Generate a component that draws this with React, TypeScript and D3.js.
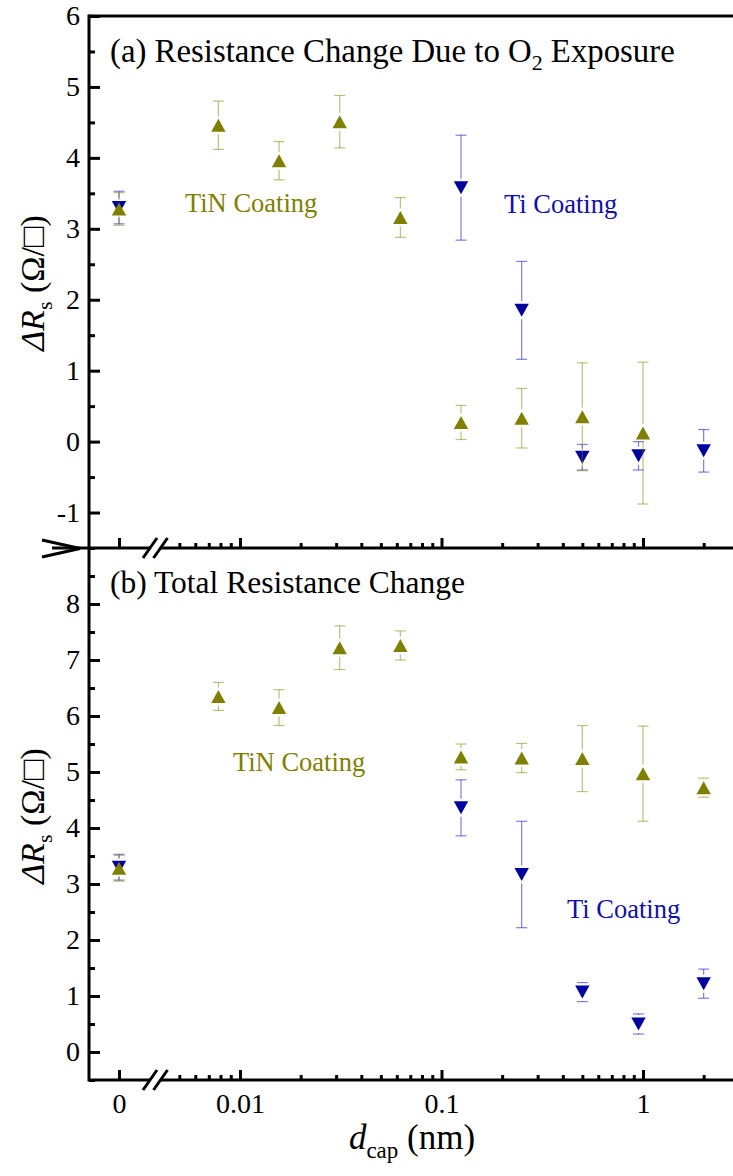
import { useEffect, useRef } from 'react'
import * as d3 from 'd3'

// thickness of capping layer (nm); 0 sits on the linear part left of the break
const dcapTiN = [0, 0.0078125, 0.015625, 0.03125, 0.0625, 0.125, 0.25, 0.5, 1, 2]
const dcapTi = [0, 0.125, 0.25, 0.5, 0.95, 2]

// (a) resistance change due to O2 exposure
const tinTopVal = [3.28, 4.46, 3.96, 4.51, 3.16, 0.27, 0.33, 0.35, 0.12]
const tinTopErr = [0.23, 0.34, 0.27, 0.37, 0.28, 0.24, 0.42, 0.76, 1.0]
const tiTopVal = [3.3, 3.58, 1.85, -0.22, -0.2, -0.13]
const tiTopErr = [0.23, 0.74, 0.69, 0.18, 0.2, 0.3]

// (b) total resistance change
const tinBotVal = [3.28, 6.35, 6.15, 7.22, 7.26, 5.27, 5.25, 5.24, 4.97, 4.72]
const tinBotErr = [0.23, 0.25, 0.32, 0.39, 0.26, 0.23, 0.26, 0.59, 0.85, 0.17]
const tiBotVal = [3.3, 4.36, 3.17, 1.07, 0.5, 1.22]
const tiBotErr = [0.23, 0.5, 0.95, 0.17, 0.18, 0.26]

const topMajor = [-1, 0, 1, 2, 3, 4, 5, 6]
const topMinor = [-1.5, -0.5, 0.5, 1.5, 2.5, 3.5, 4.5, 5.5]
const botMajor = [0, 1, 2, 3, 4, 5, 6, 7, 8]
const botMinor = [-0.5, 0.5, 1.5, 2.5, 3.5, 4.5, 5.5, 6.5, 7.5, 8.5]
const xMajor = [0.01, 0.1, 1]
const xMinor = [0.005, 0.006, 0.007, 0.008, 0.009, 0.02, 0.03, 0.04, 0.05, 0.06, 0.07, 0.08, 0.09,
  0.2, 0.3, 0.4, 0.5, 0.6, 0.7, 0.8, 0.9, 2]

const OLIVE = '#808000'
const BLUE = '#0000a0'
const FONT = '"Liberation Serif", "Times New Roman", serif'

export default function App() {
  const ref = useRef<SVGSVGElement>(null)

  useEffect(() => {
    const width = 733
    const height = 1176
    const left = 89
    const right = 740
    const svg = d3.select(ref.current)
    svg.selectAll('*').remove()
    svg.attr('viewBox', `0 0 ${width} ${height}`)

    const xLin = d3.scaleLinear().domain([-1, 1]).range([89, 149])
    const xLog = d3.scaleLog().domain([0.01, 1]).range([240, 643])
    const xOf = (d: number) => (d === 0 ? xLin(0) : xLog(d))
    const yTop = d3.scaleLinear().domain([-1.5, 6]).range([548, 16])
    const yBot = d3.scaleLinear().domain([-0.5, 9]).range([1080, 548])

    const styleAxis = (g: any, labels: boolean) => {
      g.select('.domain').remove()
      g.selectAll('line').attr('stroke', '#000').attr('stroke-width', 3)
      if (labels) g.selectAll('text').attr('fill', '#000').style('font-family', FONT).style('font-size', '28px')
      else g.selectAll('text').remove()
    }

    // y axes
    const yAxis = (scale: any, major: number[], minor: number[]) => {
      svg.append('g').attr('transform', `translate(${left},0)`)
        .call(d3.axisLeft(scale).tickValues(minor).tickSize(-6).tickFormat(() => ''))
        .call((g: any) => styleAxis(g, false))
      svg.append('g').attr('transform', `translate(${left},0)`)
        .call(d3.axisLeft(scale).tickValues(major).tickSize(-11).tickPadding(9).tickFormat((d: any) => String(d)))
        .call((g: any) => styleAxis(g, true))
    }
    yAxis(yTop, topMajor, topMinor)
    yAxis(yBot, botMajor, botMinor)

    // x axes (shared middle line gets ticks only, bottom gets labels)
    const xAxis = (y: number, labels: boolean) => {
      const mk = (ax: any, lab: boolean) => svg.append('g').attr('transform', `translate(0,${y})`)
        .call(ax).call((g: any) => styleAxis(g, lab))
      mk(d3.axisBottom(xLog).tickValues(xMinor).tickSize(-5).tickFormat(() => ''), false)
      mk(d3.axisBottom(xLog).tickValues(xMajor).tickSize(-10).tickPadding(13).tickFormat((d: any) => String(d)), labels)
      mk(d3.axisBottom(xLin).tickValues([0]).tickSize(-10).tickPadding(13).tickFormat((d: any) => String(d)), labels)
    }
    xAxis(548, false)
    xAxis(1080, true)

    // frame lines
    const frame = svg.append('g').attr('stroke', '#000').attr('stroke-width', 3).attr('fill', 'none')
    frame.append('line').attr('x1', left).attr('x2', left).attr('y1', 14.5).attr('y2', 1081.5)
    frame.append('line').attr('x1', left).attr('x2', right).attr('y1', 16).attr('y2', 16)
    frame.append('line').attr('x1', 52).attr('x2', right).attr('y1', 548).attr('y2', 548)
    frame.append('line').attr('x1', left).attr('x2', right).attr('y1', 1080).attr('y2', 1080)
    // panel break chevron on the left
    frame.append('path').attr('d', 'M42,540 L80,548.5 L42,557').attr('stroke-linejoin', 'miter')

    // axis break marks
    const breakX = 155
    ;[548, 1080].forEach(y => {
      svg.append('rect').attr('x', breakX - 5).attr('y', y - 3).attr('width', 10.5).attr('height', 6).attr('fill', '#fff')
      ;[breakX - 5, breakX + 5.5].forEach(c => {
        svg.append('line').attr('x1', c - 7).attr('y1', y + 10).attr('x2', c + 7).attr('y2', y - 10)
          .attr('stroke', '#000').attr('stroke-width', 3)
      })
    })

    const up = 'M0,-6.5 L7.2,6.5 L-7.2,6.5 Z'
    const down = 'M0,6.5 L7.2,-6.5 L-7.2,-6.5 Z'

    const series = (xs: number[], vals: number[], errs: number[], y: any, color: string, barColor: string, shape: string) => {
      const pts = vals.map((v, i) => ({ x: xOf(xs[i]), v, e: errs[i] }))
      const g = svg.append('g')
      const bars = g.append('g').attr('stroke', barColor).attr('stroke-width', 1.2).attr('fill', 'none')
      pts.forEach(p => {
        const cy = y(p.v)
        const yt = y(p.v + p.e)
        const yb = y(p.v - p.e)
        const gap = 9
        if (cy - gap > yt) bars.append('line').attr('x1', p.x).attr('x2', p.x).attr('y1', yt).attr('y2', cy - gap)
        if (cy + gap < yb) bars.append('line').attr('x1', p.x).attr('x2', p.x).attr('y1', cy + gap).attr('y2', yb)
        bars.append('line').attr('x1', p.x - 5.5).attr('x2', p.x + 5.5).attr('y1', yt).attr('y2', yt)
        bars.append('line').attr('x1', p.x - 5.5).attr('x2', p.x + 5.5).attr('y1', yb).attr('y2', yb)
      })
      return () => {
        g.selectAll('path.m').data(pts).enter().append('path').attr('class', 'm')
          .attr('d', shape).attr('fill', color)
          .attr('transform', d => `translate(${d.x},${y(d.v)})`)
      }
    }

    const m1 = series(dcapTi, tiTopVal, tiTopErr, yTop, BLUE, 'rgba(40,40,200,0.6)', down)
    const m2 = series(dcapTiN.slice(0, tinTopVal.length), tinTopVal, tinTopErr, yTop, OLIVE, 'rgba(128,128,0,0.5)', up)
    const m3 = series(dcapTi, tiBotVal, tiBotErr, yBot, BLUE, 'rgba(40,40,200,0.6)', down)
    const m4 = series(dcapTiN, tinBotVal, tinBotErr, yBot, OLIVE, 'rgba(128,128,0,0.5)', up)
    m1(); m2(); m3(); m4()

    // texts
    const txt = (x: number, y: number, color: string, size: number) => svg.append('text')
      .attr('x', x).attr('y', y).attr('fill', color)
      .style('font-family', FONT).style('font-size', `${size}px`)

    const ta = txt(110, 62, '#000', 32.8)
    ta.append('tspan').text('(a) Resistance Change Due to O')
    ta.append('tspan').attr('dy', 8).style('font-size', '22px').text('2')
    ta.append('tspan').attr('dy', -8).text(' Exposure')
    txt(110, 593, '#000', 31.5).text('(b) Total Resistance Change')

    txt(185, 212, OLIVE, 26.5).text('TiN Coating')
    txt(504, 213, '#1010aa', 26.5).text('Ti Coating')
    txt(233, 771, OLIVE, 26.5).text('TiN Coating')
    txt(567, 918, '#1010aa', 26.5).text('Ti Coating')

    const yLabel = (cy: number) => {
      const t = svg.append('text').attr('transform', `translate(44,${cy}) rotate(-90)`)
        .attr('text-anchor', 'middle').attr('fill', '#000')
        .style('font-family', FONT).style('font-size', '34px')
      t.append('tspan').style('font-style', 'italic').text('ΔR')
      t.append('tspan').attr('dy', 8).style('font-size', '22px').text('s')
      t.append('tspan').attr('dy', -8).text(' (Ω/□)')
    }
    yLabel(283)
    yLabel(816)

    const xl = svg.append('text').attr('x', 412).attr('y', 1149).attr('text-anchor', 'middle')
      .attr('fill', '#000').style('font-family', FONT).style('font-size', '35px')
    xl.append('tspan').style('font-style', 'italic').text('d')
    xl.append('tspan').attr('dy', 9).style('font-size', '23px').text('cap')
    xl.append('tspan').attr('dy', -9).text(' (nm)')
  }, [])

  return (
    <svg ref={ref} width={733} height={1176}
      style={{ position: 'absolute', left: 0, top: 0, background: '#fff' }} />
  )
}
